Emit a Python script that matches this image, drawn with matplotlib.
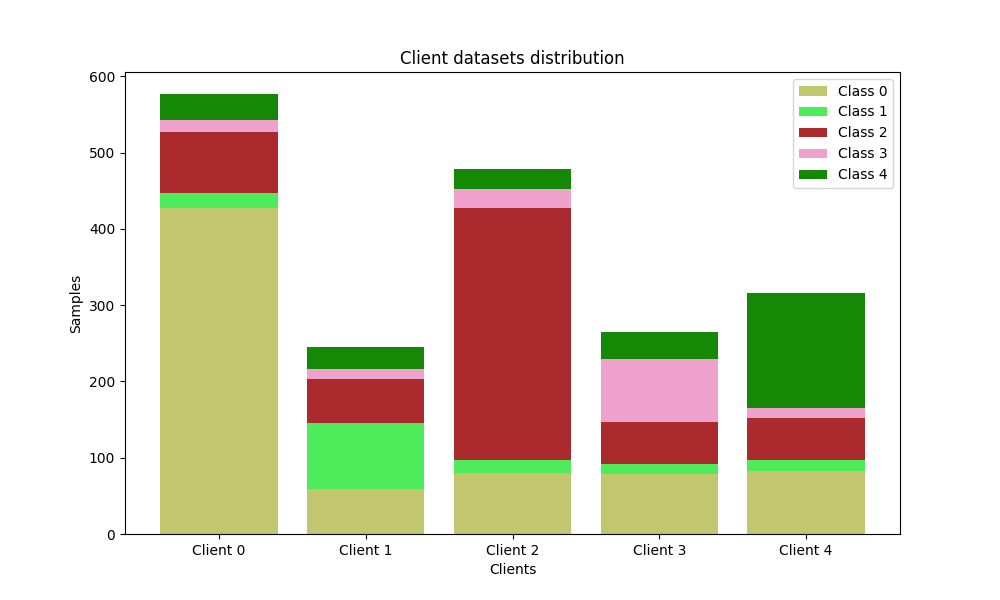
import numpy as np
import matplotlib
matplotlib.use('Agg')
import matplotlib.pyplot as plt

clients = ['Client 0', 'Client 1', 'Client 2', 'Client 3', 'Client 4']
class_names = ['Class 0', 'Class 1', 'Class 2', 'Class 3', 'Class 4']

class0 = [428, 59, 80, 79, 83]
class1 = [19, 86, 17, 13, 14]
class2 = [80, 58, 331, 55, 55]
class3 = [16, 13, 24, 82, 13]
class4 = [34, 29, 26, 36, 151]

colors = ['#c2c66e', '#4eec5a', '#aa2a2d', '#f0a2cf', '#158905']

fig, ax = plt.subplots(figsize=(10, 6), dpi=100)
bottom = np.zeros(len(clients))
for name, vals, col in zip(class_names, [class0, class1, class2, class3, class4], colors):
    ax.bar(clients, vals, bottom=bottom, color=col, label=name)
    bottom += np.array(vals)

ax.set_title('Client datasets distribution')
ax.set_xlabel('Clients')
ax.set_ylabel('Samples')
ax.legend(loc='upper right')

fig.savefig('out.png')
